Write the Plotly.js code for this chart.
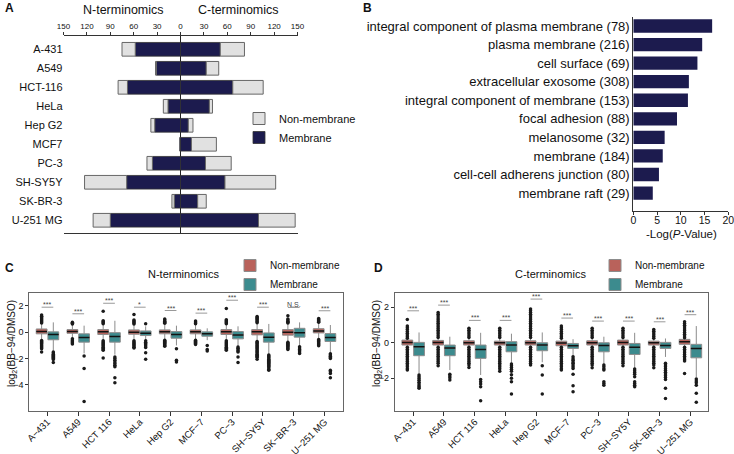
<!DOCTYPE html>
<html>
<head>
<meta charset="utf-8">
<script src="https://cdn.plot.ly/plotly-3.0.1.min.js"></script>
<style>body{margin:0;background:#fff}</style>
</head>
<body>
<div id="myDiv" style="width:734px;height:454px"></div>
<script>
var W = 734, H = 454;
function fx(p){ return p / W; }
function fy(p){ return 1 - p / H; }
var FONT = 'Liberation Sans, Arial, sans-serif';

// ---- panel A: identified proteins per cell line
var cellLinesA = ['A-431','A549','HCT-116','HeLa','Hep G2','MCF7','PC-3','SH-SY5Y','SK-BR-3','U-251 MG'];
var nMembrane    = [58, 31, 68, 16, 33, 1, 36, 69, 8, 90];
var nNonMembrane = [17, 1, 12, 6, 5, 0, 7, 54, 3, 22];
var cMembrane    = [51, 33, 67, 37, 10, 14, 32, 57, 22, 100];
var cNonMembrane = [31, 16, 39, 4, 6, 32, 33, 65, 11, 47];
var countTicks = [-150,-120,-90,-60,-30,0,30,60,90,120,150];

// ---- panel B: GO cellular component
var goTerms = ['integral component of plasma membrane (78)','plasma membrane (216)','cell surface (69)',
  'extracellular exosome (308)','integral component of membrane (153)','focal adhesion (88)',
  'melanosome (32)','membrane (184)','cell-cell adherens junction (80)','membrane raft (29)'];
var goLogP = [16.6, 14.5, 13.5, 11.7, 11.5, 9.2, 6.6, 6.2, 5.4, 4.1];

// ---- panels C / D: log2 ratio box stats
var cellLinesB = ['A\u2212431','A549','HCT 116','HeLa','Hep G2','MCF\u22127','PC\u22123','SH\u2212SY5Y','SK\u2212BR\u22123','U\u2212251 MG'];

var nNonQ1  = [-0.12,-0.08,-0.17,-0.15,-0.12,-0.12,-0.17,-0.2,-0.22,-0.05];
var nNonMed = [0.05,0.05,0.03,0.0,0.03,0.03,0.03,0.03,0.0,0.1];
var nNonQ3  = [0.25,0.2,0.2,0.18,0.18,0.18,0.2,0.2,0.2,0.27];
var nNonLo  = [-0.55,-0.45,-0.6,-0.6,-0.55,-0.55,-0.6,-0.65,-0.7,-0.5];
var nNonHi  = [0.65,0.55,0.6,0.6,0.6,0.6,0.6,0.65,0.65,0.7];
var nNonOut = [
  [1.3,1.22,1.15,1.08,1.0,0.92,0.85,0.78,0.7,-0.62,-0.7,-0.78,-0.86,-0.94,-1.02,-1.1,-1.18,-1.25,-1.5],
  [0.75,0.68,0.62,-0.5,-0.58,-0.66,-0.74,-0.82,-0.9],
  [1.6,0.87,0.8,0.72,0.65,-0.65,-0.73,-0.81,-0.89,-0.97,-1.05,-1.13,-1.21,-1.3,-1.37,-1.95],
  [1.35,0.92,0.85,0.78,0.7,0.63,-0.65,-0.73,-0.81,-0.89,-0.97,-1.05,-1.13,-1.2],
  [1.0,0.92,0.84,0.76,0.68,-0.6,-0.68,-0.76,-0.84,-0.92,-1.0,-1.07],
  [0.85,0.78,0.71,0.64,-0.6,-0.68,-0.76,-0.84,-0.92],
  [1.8,0.95,0.87,0.8,0.72,0.65,-0.65,-0.73,-0.81,-0.89,-0.97,-1.05,-1.13,-1.21,-1.3,-1.37],
  [1.2,1.12,1.04,0.96,0.88,0.8,0.72,-0.7,-0.78,-0.86,-0.94,-1.02,-1.1,-1.18,-1.26,-1.34,-1.42,-1.5,-1.58,-1.66,-1.74,-1.82,-1.9,-2.05],
  [1.25,1.0,0.92,0.84,0.76,0.7,-0.75,-0.83,-0.91,-0.99,-1.07,-1.15,-1.23,-1.3],
  [1.05,0.97,0.89,0.81,0.75,-0.55,-0.63,-0.71,-0.79,-0.87,-0.95,-1.02]
];
var nMemQ1  = [-0.57,-0.75,-0.75,-0.25,-0.45,-0.3,-0.5,-0.75,-0.37,-0.7];
var nMemMed = [-0.17,-0.4,-0.33,-0.07,-0.17,-0.12,-0.2,-0.37,-0.03,-0.4];
var nMemQ3  = [0.03,-0.12,-0.03,0.1,0.05,0.03,0.05,-0.05,0.3,-0.1];
var nMemLo  = [-1.4,-1.6,-1.7,-0.6,-1.0,-0.6,-1.05,-1.65,-1.05,-1.55];
var nMemHi  = [0.75,0.5,0.87,0.45,0.5,0.3,0.45,0.63,0.75,0.55];
var nMemOut = [
  [-1.5,-1.58,-1.66,-1.74,-1.82,-1.9,-1.98,-2.06,-2.3],
  [-1.8,-2.75,-5.25],
  [-1.88,-2.0,-2.12,-2.25,-2.37,-2.5,-2.62,-3.45,-3.83],
  [0.65,-0.65,-0.75,-0.85,-0.95,-1.05,-1.15,-1.55,-2.05],
  [-1.25,-2.12,-2.25],
  [-1.0,-1.3,-1.42],
  [-1.12,-1.22,-1.32,-1.42,-1.5,-1.88,-2.3],
  [-1.72,-1.8,-1.88,-1.96,-2.04,-2.12,-2.2,-2.28,-2.36,-2.44,-2.52,-2.6,-2.7,-2.8,-2.88],
  [-1.1,-1.2,-1.3,-1.4,-1.5,-1.62],
  [-1.63,-1.72,-1.82,-1.91,-2.0,-2.88,-3.0,-3.12,-3.45]
];
var nSig  = ['***','***','***','*','***','***','***','***','N.S.','***'];
var nSigY = [1.9,1.4,2.2,1.9,1.65,1.45,2.43,1.9,1.88,1.63];

var cNonQ1  = [-0.13,-0.13,-0.13,-0.13,-0.13,-0.17,-0.13,-0.13,-0.13,-0.09];
var cNonMed = [0.02,0.02,0.0,0.0,0.0,-0.02,0.0,0.02,0.0,0.06];
var cNonQ3  = [0.15,0.13,0.11,0.09,0.11,0.09,0.11,0.15,0.09,0.19];
var cNonLo  = [-0.25,-0.25,-0.25,-0.25,-0.25,-0.25,-0.25,-0.25,-0.25,-0.2];
var cNonHi  = [0.22,0.22,0.22,0.22,0.22,0.22,0.22,0.22,0.22,0.25];
var cNonOut = [
  [1.31,0.94,0.84,0.74,0.64,0.54,0.44,0.34,0.26,-0.26,-0.36,-0.46,-0.56,-0.66,-0.76,-0.86,-0.96,-1.06,-1.16,-1.26,-1.36,-1.46,-1.54],
  [1.71,1.6,1.5,1.4,1.3,1.2,1.1,1.0,0.9,0.8,0.7,0.6,0.5,0.4,0.3,-0.26,-0.36,-0.46,-0.56,-0.66,-0.76,-0.86,-0.96,-1.06,-1.16,-1.3],
  [0.81,0.7,0.6,0.5,0.4,0.3,-0.26,-0.36,-0.46,-0.56,-0.66,-0.76,-0.86,-0.96,-1.06,-1.16,-1.26,-1.39],
  [0.81,0.7,0.6,0.5,0.4,0.3,-0.26,-0.36,-0.46,-0.56,-0.66,-0.76,-0.86,-0.96,-1.06,-1.16,-1.26,-1.36,-1.46,-1.6],
  [1.9,1.8,1.7,1.6,1.5,1.4,1.3,1.2,1.1,1.0,0.9,0.8,0.7,0.6,0.5,0.4,0.3,-0.26,-0.36,-0.46,-0.56,-0.66,-0.76,-0.86,-0.96,-1.06,-1.16,-1.26],
  [0.94,0.84,0.74,0.64,0.54,0.44,0.34,0.26,-0.26,-0.36,-0.46,-0.56,-0.66,-0.76,-0.86,-0.96,-1.06,-1.16,-1.26,-1.36,-1.46,-1.54],
  [0.81,0.7,0.6,0.5,0.4,0.3,-0.26,-0.36,-0.46,-0.56,-0.66,-0.76,-0.86,-0.96,-1.06,-1.16,-1.26,-1.41],
  [0.81,0.7,0.6,0.5,0.4,0.3,-0.26,-0.36,-0.46,-0.56,-0.66,-0.76,-0.86,-0.96,-1.06,-1.16,-1.3],
  [0.75,0.65,0.55,0.45,0.35,0.26,-0.26,-0.36,-0.46,-0.56,-0.66,-0.76,-0.86,-0.96,-1.06,-1.16,-1.26,-1.41],
  [1.18,1.08,0.98,0.88,0.78,0.68,0.58,0.48,0.38,0.28,-0.26,-0.36,-0.46,-0.56,-0.66,-0.76,-0.86,-0.96,-1.03,-1.73]
];
var cMemQ1  = [-0.73,-0.73,-0.88,-0.51,-0.45,-0.32,-0.51,-0.66,-0.32,-0.85];
var cMemMed = [-0.23,-0.3,-0.38,-0.13,-0.13,-0.17,-0.15,-0.26,-0.15,-0.32];
var cMemQ3  = [0.02,-0.13,-0.13,0.06,0.0,-0.04,0.0,-0.04,0.02,-0.09];
var cMemLo  = [-1.75,-1.54,-1.82,-1.15,-1.1,-0.75,-1.2,-1.45,-0.8,-1.95];
var cMemHi  = [0.58,0.34,0.56,0.51,0.58,0.2,0.34,0.56,0.24,0.94];
var cMemOut = [
  [-1.82,-1.92,-2.02,-2.12,-2.22,-2.32,-2.42,-2.5,-2.57],
  [-1.78,-1.88,-1.98,-2.1],
  [-2.07,-2.2,-2.33,-2.48,-3.27],
  [-1.2,-1.3,-1.4,-1.5,-1.6,-1.8,-2.0,-2.2,-2.89],
  [-1.3,-1.82,-2.89],
  [-0.79,-0.9,-0.98,-1.08,-1.16,-1.26,-1.35,-1.45,-1.78,-2.42,-2.76],
  [-1.26,-1.36,-1.46,-1.54,-2.2,-2.3,-2.39],
  [-1.48,-1.58,-1.68,-1.78,-1.92,-2.2,-2.3,-2.39,-2.48],
  [-1.16,-1.26,-1.36,-1.46,-1.56,-1.66,-1.76,-1.86,-1.96,-2.07,-2.57,-3.14],
  [-2.05,-2.15,-2.25,-2.39,-2.85,-3.36]
];
var cSig  = ['***','***','***','***','***','***','***','***','***','***'];
var cSigY = [1.8,2.12,1.26,1.26,2.46,1.39,1.22,1.22,1.18,1.58];

var NAVY = '#1c1b4e', GREY = '#e1e1e1';
var RED = '#b9625b', TEAL = '#3c8b8e';
var OFF = 0.19, BW = 0.35;

var data = [];

// panel A bars (relative stacking, N-terminomics to the left)
function neg(a){ return a.map(function(v){ return -v; }); }
data.push({type:'bar', orientation:'h', y:cellLinesA, x:neg(nMembrane), name:'Membrane',
  marker:{color:NAVY, line:{color:'#333', width:0.8}}, legendgroup:'m', legendrank:2, showlegend:false});
data.push({type:'bar', orientation:'h', y:cellLinesA, x:neg(nNonMembrane), name:'Non-membrane',
  marker:{color:GREY, line:{color:'#666', width:1}}, legendgroup:'nm', legendrank:1, showlegend:false});
data.push({type:'bar', orientation:'h', y:cellLinesA, x:cMembrane, name:'Membrane',
  marker:{color:NAVY, line:{color:'#333', width:0.8}}, legendgroup:'m', legendrank:2});
data.push({type:'bar', orientation:'h', y:cellLinesA, x:cNonMembrane, name:'Non-membrane',
  marker:{color:GREY, line:{color:'#666', width:1}}, legendgroup:'nm', legendrank:1});

// panel B
data.push({type:'bar', orientation:'h', y:goTerms, x:goLogP, xaxis:'x2', yaxis:'y2',
  marker:{color:NAVY}, showlegend:false});

// panels C / D
function boxPanel(xa, ya, leg, nonStats, memStats, nonOut, memOut){
  var pNon = cellLinesB.map(function(_, i){ return i - OFF; });
  var pMem = cellLinesB.map(function(_, i){ return i + OFF; });
  [[pNon, nonStats, RED, 'Non-membrane', 1], [pMem, memStats, TEAL, 'Membrane', 2]].forEach(function(s){
    data.push({type:'box', x:s[0], q1:s[1][0], median:s[1][1], q3:s[1][2], lowerfence:s[1][3], upperfence:s[1][4],
      width:BW, whiskerwidth:0, boxpoints:false, fillcolor:s[2], line:{color:'#8c8c8c', width:1},
      name:s[3], legend:leg, legendrank:s[4], xaxis:xa, yaxis:ya, hoverinfo:'skip'});
  });
  // outliers
  var ox = [], oy = [];
  [[pNon, nonOut], [pMem, memOut]].forEach(function(s){
    s[1].forEach(function(arr, i){ arr.forEach(function(v){ ox.push(s[0][i]); oy.push(v); }); });
  });
  data.push({type:'scatter', mode:'markers', x:ox, y:oy, xaxis:xa, yaxis:ya, showlegend:false,
    marker:{size:3.5, color:'#1a1a1a'}, hoverinfo:'skip'});
  // median lines
  var mx = [], my = [];
  [[pNon, nonStats[1]], [pMem, memStats[1]]].forEach(function(s){
    s[0].forEach(function(p, i){ mx.push(p - BW/2, p + BW/2, null); my.push(s[1][i], s[1][i], null); });
  });
  data.push({type:'scatter', mode:'lines', x:mx, y:my, xaxis:xa, yaxis:ya, showlegend:false,
    line:{color:'#111', width:1.5}, hoverinfo:'skip'});
}
boxPanel('x3','y3','legend2', [nNonQ1,nNonMed,nNonQ3,nNonLo,nNonHi], [nMemQ1,nMemMed,nMemQ3,nMemLo,nMemHi], nNonOut, nMemOut);
boxPanel('x4','y4','legend3', [cNonQ1,cNonMed,cNonQ3,cNonLo,cNonHi], [cMemQ1,cMemMed,cMemQ3,cMemLo,cMemHi], cNonOut, cMemOut);

var shapes = [], annotations = [];
function sigMarks(xr, yr, labels, ys){
  labels.forEach(function(t, i){
    shapes.push({type:'line', xref:xr, yref:yr, x0:i-OFF, x1:i+OFF, y0:ys[i], y1:ys[i], line:{color:'#999', width:1}});
    annotations.push({xref:xr, yref:yr, x:i, y:ys[i], text:t, showarrow:false, xanchor:'center', yanchor:'bottom', yshift:-3,
      font:{size:7, color:'#444', family:FONT}});
  });
}
sigMarks('x3','y3', nSig, nSigY);
sigMarks('x4','y4', cSig, cSigY);

function txt(x, y, t, size, extra){
  var a = {xref:'paper', yref:'paper', x:fx(x), y:fy(y), text:t, showarrow:false, xanchor:'center', yanchor:'middle',
    font:{size:size, color:'#111', family:FONT}};
  for (var k in extra) a[k] = extra[k];
  annotations.push(a);
}
txt(3, 8, '<b>A</b>', 12, {xanchor:'left'});
txt(361, 8, '<b>B</b>', 12, {xanchor:'left'});
txt(3, 268, '<b>C</b>', 12, {xanchor:'left'});
txt(372, 268, '<b>D</b>', 12, {xanchor:'left'});
txt(123, 10, 'N-terminomics', 12.5, {});
txt(239, 10, 'C-terminomics', 12.5, {});
txt(183, 274, 'N-terminomics', 11, {});
txt(550, 274, 'C-terminomics', 11, {});
txt(681, 234, '-Log(<i>P</i>-Value)', 11.5, {});
txt(12, 344, 'log<sub>2</sub>(BB\u221294/DMSO)', 10, {textangle:-90});
txt(377, 344, 'log<sub>2</sub>(BB\u221294/DMSO)', 10, {textangle:-90});

var ticksText = countTicks.map(function(v){ return String(Math.abs(v)); });
var boxX = {range:[-0.59, 9.61], tickvals:cellLinesB.map(function(_, i){ return i; }), ticktext:cellLinesB,
  tickangle:-45, ticks:'outside', ticklen:4, tickcolor:'#333', showline:true, mirror:true, linecolor:'#666',
  showgrid:false, zeroline:false, tickfont:{size:9.5, color:'#111'}, ticklabeloverflow:'allow',
  ticklabelstandoff:-3};

var layout = {
  width:W, height:H, margin:{l:0, r:0, t:0, b:0}, paper_bgcolor:'#fff', plot_bgcolor:'rgba(0,0,0,0)',
  font:{family:FONT, color:'#111'}, barmode:'relative', bargap:0.28, showlegend:true,
  xaxis:{domain:[fx(63.5), fx(297.5)], range:[-150,150], side:'top', tickvals:countTicks, ticktext:ticksText,
    ticks:'outside', ticklen:3, tickcolor:'#333', showline:true, mirror:true, linecolor:'#333', linewidth:1.2,
    zeroline:true, zerolinecolor:'#222', zerolinewidth:1.5, showgrid:false, tickfont:{size:8},
    ticklabeloverflow:'allow'},
  yaxis:{domain:[fy(233), fy(36)], type:'category', categoryarray:cellLinesA, range:[9.67, -0.7],
    showline:false, ticks:'', showgrid:false, tickfont:{size:11}, ticklabelstandoff:0},
  xaxis2:{domain:[fx(633.3), fx(728.3)], range:[0,20], tickvals:[0,5,10,15,20], ticks:'outside', ticklen:3,
    tickcolor:'#333', showline:true, linecolor:'#333', showgrid:false, zeroline:false, tickfont:{size:10.5},
    anchor:'y2', ticklabeloverflow:'allow', ticklabelstandoff:-3},
  yaxis2:{domain:[fy(210.7), fy(17)], type:'category', categoryarray:goTerms, range:[9.95, -0.485],
    showline:true, linecolor:'#333', ticks:'', showgrid:false, tickfont:{size:13}, anchor:'x2'},
  xaxis3:Object.assign({domain:[fx(29.3), fx(343.3)], anchor:'y3'}, boxX),
  yaxis3:{domain:[fy(410.7), fy(292.7)], range:[-5.95, 3.0], tickvals:[2,0,-2,-4], ticks:'outside', ticklen:3,
    tickcolor:'#333', showline:true, mirror:true, linecolor:'#666', showgrid:false, zeroline:false,
    tickfont:{size:9}, anchor:'x3'},
  xaxis4:Object.assign({domain:[fx(394.7), fx(708.3)], anchor:'y4'}, boxX, {range:[-0.6, 9.58]}),
  yaxis4:{domain:[fy(410.7), fy(292.7)], range:[-3.83, 2.82], tickvals:[2,0,-2], ticks:'outside', ticklen:3,
    tickcolor:'#333', showline:true, mirror:true, linecolor:'#666', showgrid:false, zeroline:false,
    tickfont:{size:9}, anchor:'x4'},
  legend:{x:fx(239), y:fy(104), xanchor:'left', yanchor:'top', font:{size:11}, tracegroupgap:4,
    bgcolor:'rgba(0,0,0,0)', traceorder:'normal'},
  legend2:{x:fx(230), y:fy(251), xanchor:'left', yanchor:'top', font:{size:10}, bgcolor:'rgba(0,0,0,0)'},
  legend3:{x:fx(595), y:fy(251), xanchor:'left', yanchor:'top', font:{size:10}, bgcolor:'rgba(0,0,0,0)'},
  shapes:shapes, annotations:annotations
};

Plotly.newPlot('myDiv', data, layout, {displayModeBar:false, staticPlot:true});
</script>
</body>
</html>
